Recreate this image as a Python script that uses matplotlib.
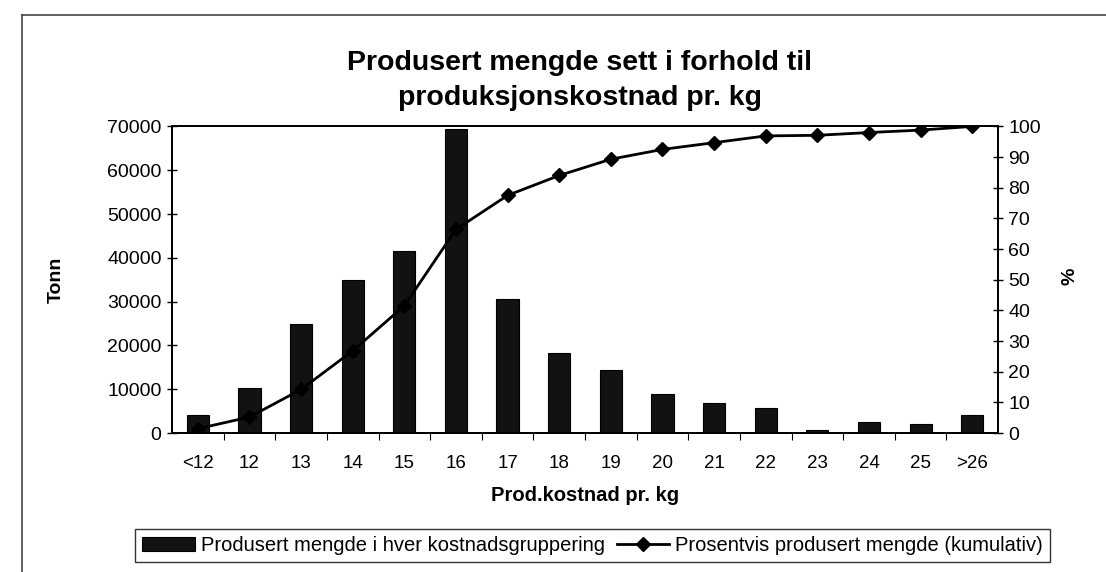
import matplotlib
matplotlib.use("Agg")
import matplotlib.pyplot as plt
from matplotlib.lines import Line2D

# Data
kategorier = ["<12", "12", "13", "14", "15", "16", "17", "18", "19", "20",
              "21", "22", "23", "24", "25", ">26"]
tonn = [4000, 10200, 24800, 35000, 41500, 69500, 30500, 18200, 14400, 9000,
        6800, 5800, 600, 2400, 2000, 4000]
kumulativ_pst = [1.4, 5.2, 14.2, 26.8, 41.5, 66.4, 77.5, 84.0, 89.3, 92.5,
                 94.7, 96.9, 97.1, 98.0, 98.8, 100.0]

plt.rcParams['font.family'] = ['Liberation Sans', 'DejaVu Sans']

fig = plt.figure(figsize=(11.06, 5.72), dpi=100)
ax = fig.add_axes([0.1555, 0.243, 0.7469, 0.536])
ax2 = ax.twinx()

x = list(range(len(kategorier)))

# Bars (left axis)
ax.bar(x, tonn, width=0.43, color='#121212', edgecolor='#000000', linewidth=0.8,
       label='Produsert mengde i hver kostnadsgruppering', zorder=2)
ax.set_xlim(-0.5, len(kategorier) - 0.5)
ax.set_ylim(0, 70000)
ax.set_yticks(range(0, 70001, 10000))
ax.tick_params(axis='y', direction='inout', length=7, width=1, labelsize=14, pad=4)
ax.set_xticks(x)
ax.set_xticklabels(kategorier)
ax.tick_params(axis='x', length=0, labelsize=13.5, pad=16)
ax.set_xticks([i + 0.5 for i in x[:-1]], minor=True)
ax.tick_params(axis='x', which='minor', direction='out', length=5, width=0.8)

# Cumulative line (right axis)
ax2.plot(x, kumulativ_pst, color='black', linewidth=2, marker='D', markersize=7,
         label='Prosentvis produsert mengde (kumulativ)', zorder=3)
ax2.set_ylim(0, 100)
ax2.set_yticks(range(0, 101, 10))
ax2.tick_params(axis='y', direction='inout', length=7, width=1, labelsize=14, pad=4)

for a in (ax, ax2):
    for s in a.spines.values():
        s.set_linewidth(1.3)
        s.set_color('black')

ax.set_ylabel('Tonn', fontsize=14, fontweight='bold', labelpad=0)
ax.yaxis.set_label_coords(-0.13, 0.5)
ax2.set_ylabel('%', fontsize=14, fontweight='bold', labelpad=0)
ax2.yaxis.set_label_coords(1.077, 0.51)
ax.set_xlabel('Prod.kostnad pr. kg', fontsize=14.5, fontweight='bold', labelpad=10)

fig.text(0.524, 0.86, 'Produsert mengde sett i forhold til\nproduksjonskostnad pr. kg',
         ha='center', va='center', fontsize=20.5, fontweight='bold', linespacing=1.45)

# Legend at the bottom
h1, l1 = ax.get_legend_handles_labels()
h2, l2 = ax2.get_legend_handles_labels()
leg = fig.legend(h1 + h2, l1 + l2, loc='center', bbox_to_anchor=(0.536, 0.047),
                 ncol=2, fontsize=14.5, frameon=True, fancybox=False,
                 handlelength=2.6, handletextpad=0.3, columnspacing=0.6,
                 borderpad=0.35, edgecolor='black')
leg.get_frame().set_linewidth(1)

# Outer frame of the scanned chart (left and top edges)
fig.add_artist(Line2D([22 / 1106, 22 / 1106], [0, 1 - 15 / 572],
                      transform=fig.transFigure, color='#444444', linewidth=1.2))
fig.add_artist(Line2D([22 / 1106, 1], [1 - 15 / 572, 1 - 15 / 572],
                      transform=fig.transFigure, color='#444444', linewidth=1.2))

fig.savefig('out.png', dpi=100)
